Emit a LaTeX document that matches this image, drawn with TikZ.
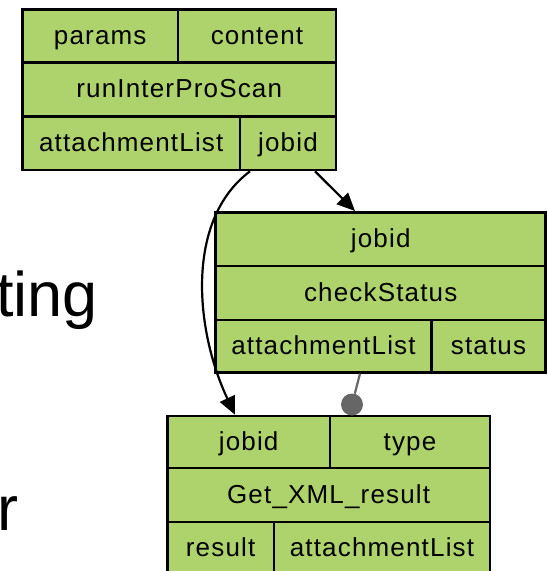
\documentclass[tikz,border=0pt]{standalone}
\usepackage{fontspec}
\setmainfont{Liberation Sans}
\newfontfamily\cellfont[LetterSpace=4.5]{Liberation Sans}
\usetikzlibrary{arrows.meta}
\definecolor{procgreen}{RGB}{174,211,108}
\definecolor{linkgray}{RGB}{102,102,102}

\begin{document}
\begin{tikzpicture}[x=1pt,y=-1pt,
  cell/.style={draw=black, fill=procgreen, line width=2.6pt, inner sep=0pt,
    font=\cellfont\fontsize{26}{30}\selectfont, text height=16pt, text depth=0pt},
  flow/.style={line width=2.2pt, -{Triangle[length=18pt,width=16pt]}},
  ctrl/.style={line width=2.2pt, draw=linkgray},
  ctrldot/.style={circle, fill=linkgray, minimum size=22pt, inner sep=0pt},
  slidetext/.style={inner sep=0pt, font=\fontsize{63}{70}\selectfont}
]
\clip (0,0) rectangle (548,571);
\fill[white] (0,0) rectangle (548,571);

% slide text behind the workflow
\node[slidetext, anchor=base east] (ting) at (98,316) {ting};
\node[slidetext, anchor=base west] (rtxt) at (-3,530) {r};

% runInterProScan processor
\node[cell, minimum width=155.5pt, minimum height=53.2pt] (paramsA)  at (100.25,36.1) {params};
\node[cell, minimum width=158pt,   minimum height=53.2pt] (contentA) at (257,36.1) {content};
\node[cell, minimum width=313.5pt, minimum height=54pt]   (runA)     at (179.25,89.7) {runInterProScan};
\node[cell, minimum width=217.5pt, minimum height=53.3pt] (attA)     at (131.25,143.35) {attachmentList};
\node[cell, minimum width=96pt,    minimum height=53.3pt] (jobA)     at (288,143.35) {jobid};

% checkStatus processor
\node[cell, minimum width=330pt,   minimum height=53.7pt] (jobB)     at (380.7,239.15) {jobid};
\node[cell, minimum width=330pt,   minimum height=54pt]   (checkB)   at (380.7,293) {checkStatus};
\node[cell, minimum width=215.6pt, minimum height=52.3pt] (attB)     at (323.5,346.15) {attachmentList};
\node[cell, minimum width=114.4pt, minimum height=52.3pt] (statusB)  at (488.5,346.15) {status};

% Get_XML_result processor
\node[cell, minimum width=162.7pt, minimum height=52pt]   (jobC)     at (248.65,442) {jobid};
\node[cell, minimum width=160pt,   minimum height=52pt]   (typeC)    at (410,442) {type};
\node[cell, minimum width=322.7pt, minimum height=54pt]   (getC)     at (328.65,495) {Get\_XML\_result};
\node[cell, minimum width=106.7pt, minimum height=53pt]   (resultC)  at (220.65,548.5) {result};
\node[cell, minimum width=216pt,   minimum height=53pt]   (attC)     at (382,548.5) {attachmentList};

% data links
\draw[flow] ([xshift=27pt]jobA.south) -- ([xshift=-25.7pt]jobB.north);
\draw[flow] ([xshift=-38pt]jobA.south) .. controls (185,220) and (195,330) .. ([xshift=-13.7pt]jobC.north);

% control link
\node[ctrldot] (gate) at (352,404.5) {};
\draw[ctrl] ([xshift=36.5pt]attB.south) -- (gate);
\end{tikzpicture}
\end{document}
